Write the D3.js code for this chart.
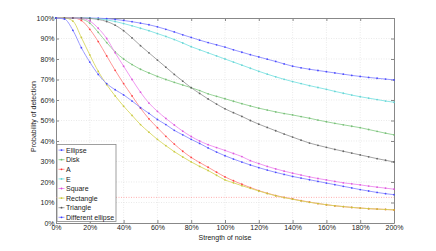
<!DOCTYPE html>
<html>
<head>
<meta charset="utf-8">
<script src="https://cdn.jsdelivr.net/npm/d3@7"></script>
<style>
  body { margin: 0; background: #fff; }
  text { font-family: "Liberation Sans", Arial, sans-serif; }
</style>
</head>
<body>
<div id="chart"></div>
<script>
// noise strength in %, one sample every 5%
var noise = d3.range(0, 201, 5);

var seriesNames = ["Ellipse", "Disk", "A", "E", "Square", "Rectangle", "Triangle", "Different ellipse"];

var ellipse = [100, 100, 100, 100, 100, 99.9, 99.7, 99.3, 98.8, 98.2, 97.5, 96.7, 95.7, 94.5, 93.2, 91.8, 90.5, 89.2, 88, 86.9,
  85.8, 84.5, 83.3, 82.1, 81, 79.9, 78.8, 77.6, 76.5, 75.7, 75, 74.4, 73.8, 73.2, 72.6, 72, 71.5, 71, 70.6, 70.2, 69.8];
var disk = [100, 100, 100, 99.5, 97.5, 93, 88, 83.5, 80, 77.3, 75, 73.2, 71.5, 70, 68.6, 67.3, 66, 64.6, 63, 61.8,
  60.6, 59.4, 58.2, 57.1, 56, 55.1, 54.2, 53.4, 52.7, 51.9, 51.1, 50.2, 49.4, 48.6, 47.9, 47.2, 46.5, 45.6, 44.7, 43.8, 43];
var letterA = [100, 100, 100, 98.8, 94.5, 88.5, 81.5, 74.5, 68, 62, 56, 50.8, 46.5, 42.3, 38.5, 35, 32, 29.5, 27.2, 24.8,
  22.5, 20.6, 18.9, 17.3, 15.8, 14.5, 13.4, 12.5, 11.7, 10.9, 10.2, 9.5, 8.9, 8.4, 8, 7.6, 7.3, 7, 6.8, 6.6, 6.4];
var letterE = [100, 100, 100, 100, 99.9, 99.6, 99.1, 98.3, 97.3, 96.2, 95, 93.8, 92.4, 91, 89.5, 87.8, 86, 84.5, 83, 81.5,
  80, 78.5, 77, 75.5, 74, 72.6, 71.3, 70.1, 69, 68, 67, 66.1, 65.2, 64.2, 63.3, 62.4, 61.6, 60.9, 60.2, 59.5, 58.9];
var square = [100, 100, 100, 99.8, 98.5, 95, 90, 83, 76.5, 70, 63.8, 58.5, 54.5, 51, 47.8, 44.8, 42.2, 40, 38.2, 36.8,
  35.4, 33.9, 32.4, 30.4, 29, 27.6, 26.4, 25.3, 24.3, 23.4, 22.5, 21.7, 21, 20.3, 19.6, 19.1, 18.6, 18, 17.5, 17, 16.5];
var rectangle = [100, 100, 98.5, 90.5, 82, 74, 67.5, 62, 57, 52.5, 48, 44.3, 40.8, 37.7, 34.8, 32.2, 29.8, 27.6, 25.6, 23.3,
  21, 19.6, 18.2, 16.9, 15.6, 14.4, 13.3, 12.4, 11.6, 10.8, 10.1, 9.5, 8.9, 8.4, 8, 7.6, 7.3, 7, 6.8, 6.6, 6.4];
var triangle = [100, 100, 100, 100, 99.8, 99.3, 98.3, 96.5, 93.8, 90.3, 86.5, 83, 79.5, 76, 72.5, 69.2, 66, 63.2, 60.5, 58,
  55.7, 53.8, 52, 50, 48.2, 46.6, 45, 43.4, 41.9, 40.4, 39, 37.9, 36.9, 35.9, 35, 34.1, 33.2, 32.3, 31.4, 30.6, 29.8];
var diffEllipse = [100, 99.5, 94, 85.5, 78.5, 72.5, 68, 65, 62.5, 59.5, 56.3, 53.5, 50.5, 48, 45.2, 43, 40.8, 38.8, 36.6, 34.6,
  32.8, 31.2, 29.7, 28.3, 27, 25.8, 24.7, 23.7, 22.7, 21.9, 21.1, 20.3, 19.5, 18.7, 17.9, 17.1, 16.3, 15.6, 14.9, 14.3, 13.8];

var thresholdLevel = 12.5;
var xTicks = d3.range(0, 201, 20);
var yTicks = d3.range(0, 101, 10);

var series = [
  { name: seriesNames[0], values: ellipse, line: "#8c8cff", dot: "#3a3aff" },
  { name: seriesNames[1], values: disk, line: "#8fcf8f", dot: "#70b870" },
  { name: seriesNames[2], values: letterA, line: "#ff8a8a", dot: "#ff3030" },
  { name: seriesNames[3], values: letterE, line: "#7fe3e3", dot: "#60d0d0" },
  { name: seriesNames[4], values: square, line: "#ee8cee", dot: "#d84cd8" },
  { name: seriesNames[5], values: rectangle, line: "#d8d860", dot: "#c4c436" },
  { name: seriesNames[6], values: triangle, line: "#9a9a9a", dot: "#555" },
  { name: seriesNames[7], values: diffEllipse, line: "#8c8cff", dot: "#3a3aff" }
];

var width = 436, height = 251;
var margin = { left: 56, right: 42, top: 18, bottom: 28 };
var fs = 7;

var svg = d3.select("#chart").append("svg")
  .attr("width", width)
  .attr("height", height);

var x = d3.scaleLinear().domain([0, 200]).range([margin.left, width - margin.right]);
var y = d3.scaleLinear().domain([0, 100]).range([height - margin.bottom, margin.top]);

var pct = function(d) { return d + "%"; };

// grid
svg.append("g").selectAll("line").data(xTicks.slice(1, -1)).enter().append("line")
  .attr("x1", x).attr("x2", x).attr("y1", y(0)).attr("y2", y(100))
  .attr("stroke", "#dcdcdc").attr("stroke-width", 0.6).attr("stroke-dasharray", "1,1.5");
svg.append("g").selectAll("line").data(yTicks.slice(1, -1)).enter().append("line")
  .attr("y1", y).attr("y2", y).attr("x1", x(0)).attr("x2", x(200))
  .attr("stroke", "#dcdcdc").attr("stroke-width", 0.6).attr("stroke-dasharray", "1,1.5");

// axes
svg.append("g")
  .attr("transform", "translate(0," + y(0) + ")")
  .call(d3.axisBottom(x).tickValues(xTicks).tickFormat(pct).tickSizeInner(-3).tickSizeOuter(0).tickPadding(2.5));
svg.append("g")
  .attr("transform", "translate(" + x(0) + ",0)")
  .call(d3.axisLeft(y).tickValues(yTicks).tickFormat(pct).tickSizeInner(-3).tickSizeOuter(0).tickPadding(1.5));
svg.append("g")
  .attr("transform", "translate(0," + y(100) + ")")
  .call(d3.axisTop(x).tickValues(xTicks).tickFormat("").tickSizeInner(-3).tickSizeOuter(0));
svg.append("g")
  .attr("transform", "translate(" + x(200) + ",0)")
  .call(d3.axisRight(y).tickValues(yTicks).tickFormat("").tickSizeInner(-3).tickSizeOuter(0));

svg.selectAll(".domain").attr("stroke", "#888");
svg.selectAll(".tick line").attr("stroke", "#888");
svg.selectAll(".tick text").attr("font-size", fs).attr("fill", "#222")
  .attr("font-family", "Liberation Sans, Arial, sans-serif");

// threshold
svg.append("line")
  .attr("x1", x(0)).attr("x2", x(200))
  .attr("y1", y(thresholdLevel)).attr("y2", y(thresholdLevel))
  .attr("stroke", "#ff9a9a").attr("stroke-width", 0.8).attr("stroke-dasharray", "1,1.5");

// curves
var line = d3.line()
  .x(function(d, i) { return x(noise[i]); })
  .y(function(d) { return y(d); })
  .curve(d3.curveMonotoneX);

var curves = svg.append("g");
series.forEach(function(s) {
  curves.append("path")
    .attr("d", line(s.values))
    .attr("fill", "none")
    .attr("stroke", s.line)
    .attr("stroke-width", 0.9);
  curves.append("g").selectAll("circle").data(s.values).enter().append("circle")
    .attr("cx", function(d, i) { return x(noise[i]); })
    .attr("cy", function(d) { return y(d); })
    .attr("r", 0.9)
    .attr("fill", s.dot)
    .attr("opacity", 0.85);
});

// axis titles
svg.append("text")
  .attr("x", (x(0) + x(200)) / 2)
  .attr("y", 240)
  .attr("text-anchor", "middle")
  .attr("font-size", fs)
  .attr("fill", "#222")
  .text("Strength of noise");
svg.append("text")
  .attr("transform", "translate(35.5," + ((y(0) + y(100)) / 2 - 4) + ") rotate(-90)")
  .attr("text-anchor", "middle")
  .attr("font-size", fs)
  .attr("fill", "#222")
  .text("Probability of detection");

// legend
var legend = svg.append("g").attr("transform", "translate(57,144.5)");
legend.append("rect")
  .attr("width", 59).attr("height", 77)
  .attr("fill", "#fff").attr("stroke", "#888").attr("stroke-width", 0.8);
var item = legend.selectAll(".item").data(series).enter().append("g")
  .attr("transform", function(d, i) { return "translate(0," + (5.6 + i * 9.6) + ")"; });
item.append("line")
  .attr("x1", 1.5).attr("x2", 7.5)
  .attr("stroke", function(d) { return d.line; }).attr("stroke-width", 0.9);
item.append("circle")
  .attr("cx", 4.5).attr("r", 0.9)
  .attr("fill", function(d) { return d.dot; });
item.append("text")
  .attr("x", 9).attr("y", 2.6)
  .attr("font-size", fs)
  .attr("fill", "#222")
  .text(function(d) { return d.name; });
</script>
</body>
</html>
